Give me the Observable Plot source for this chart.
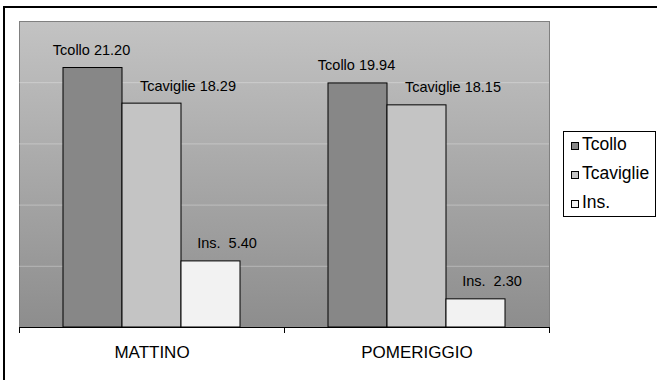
<!DOCTYPE html>
<html>
<head>
<meta charset="utf-8">
<script src="https://cdn.jsdelivr.net/npm/d3@7"></script>
<script src="https://cdn.jsdelivr.net/npm/@observablehq/plot@0.6"></script>
<style>
  html, body { margin: 0; padding: 0; background: white; }
  #wrap { position: relative; width: 657px; height: 380px; overflow: hidden; font-family: "Liberation Sans", Arial, sans-serif; }
  #outer { position: absolute; left: 3px; top: 6px; width: 680px; height: 400px; border: 2px solid #000; box-sizing: border-box; pointer-events: none; }
  #legend { position: absolute; left: 563px; top: 131px; width: 93px; height: 86px; border: 1px solid #000; box-sizing: border-box; background: white; font-size: 17.5px; color: #000; }
  #legend .row { height: 29px; line-height: 29px; white-space: nowrap; padding-left: 7px; }
  #legend .row:first-child { margin-top: -2.5px; }
  #legend .sw { display: inline-block; width: 8px; height: 8px; border: 1px solid #000; box-sizing: border-box; margin-right: 3px; vertical-align: baseline; }
</style>
</head>
<body>
<div id="wrap"></div>
<script>
// ---- data ----
const categories = ["MATTINO", "POMERIGGIO"];
const series = ["Tcollo", "Tcaviglie", "Ins."];
const tcollo = [21.20, 19.94];
const tcaviglie = [18.29, 18.15];
const ins = [5.40, 2.30];
const labelNames = ["Tcollo ", "Tcaviglie ", "Ins.  "];
const yTicks = [0, 5, 10, 15, 20, 25];

const valuesBySeries = [tcollo, tcaviglie, ins];
const rows = [];
categories.forEach((cat, ci) => {
  series.forEach((s, si) => {
    rows.push({cat, series: s, value: valuesBySeries[si][ci], label: labelNames[si] + valuesBySeries[si][ci].toFixed(2)});
  });
});

const W = 657, H = 380, mL = 18, mR = 108, mT = 21, mB = 53;
const plotH = H - mT - mB;
const labelDx = {"Tcollo": -1.5, "Tcaviglie": 36, "Ins.": 16};

const chart = Plot.plot({
  width: W, height: H,
  marginLeft: mL, marginRight: mR, marginTop: mT, marginBottom: mB,
  style: {fontFamily: "'Liberation Sans', Arial, sans-serif", background: "transparent", color: "#000"},
  fx: {domain: categories, padding: 0, axis: null},
  x: {domain: series, paddingInner: 0, paddingOuter: 0.73, axis: null},
  y: {domain: [yTicks[0], yTicks[yTicks.length - 1]], axis: null},
  color: {domain: series, range: ["#878787", "#c4c4c4", "#f2f2f2"]},
  marks: [
    Plot.frame({facet: "super", fill: "url(#plotbg)", stroke: "#808080"}),
    Plot.ruleY(yTicks.slice(1, -1), {stroke: "#ffffff", strokeOpacity: 0.3}),
    Plot.barY(rows, {fx: "cat", x: "series", y: "value", fill: "series", stroke: "#000", strokeWidth: 1}),
    Plot.ruleY([0], {stroke: "#000"}),
    Plot.frame({anchor: "left", stroke: "#000", insetTop: plotH, insetBottom: -5}),
    Plot.frame({anchor: "right", stroke: "#000", insetTop: plotH, insetBottom: -5}),
    ...series.map(s => Plot.text(rows.filter(r => r.series === s), {fx: "cat", x: "series", y: "value", text: "label", fontSize: 14.5, lineAnchor: "middle", dy: -17.6, dx: labelDx[s], fill: "#000"})),
    Plot.text(categories, {fx: d => d, text: d => d, frameAnchor: "bottom", lineAnchor: "middle", dy: 25, fontSize: 17, fill: "#000"})
  ]
});

// gradient for plot area
const defs = d3.select(chart).insert("defs", ":first-child");
const grad = defs.append("linearGradient").attr("id", "plotbg").attr("x1", 0).attr("y1", 0).attr("x2", 0).attr("y2", 1);
grad.append("stop").attr("offset", "0%").attr("stop-color", "#c3c3c3");
grad.append("stop").attr("offset", "100%").attr("stop-color", "#8d8d8d");

const wrap = document.getElementById("wrap");
wrap.appendChild(chart);
chart.style.position = "absolute";
chart.style.left = "0px";
chart.style.top = "0px";

const outer = document.createElement("div");
outer.id = "outer";
wrap.appendChild(outer);

// legend from the color scale
const color = chart.scale("color");
const legend = document.createElement("div");
legend.id = "legend";
color.domain.forEach((s, i) => {
  const row = document.createElement("div");
  row.className = "row";
  const sw = document.createElement("span");
  sw.className = "sw";
  sw.style.background = color.range[i];
  row.appendChild(sw);
  row.appendChild(document.createTextNode(s));
  legend.appendChild(row);
});
wrap.appendChild(legend);
</script>
</body>
</html>
